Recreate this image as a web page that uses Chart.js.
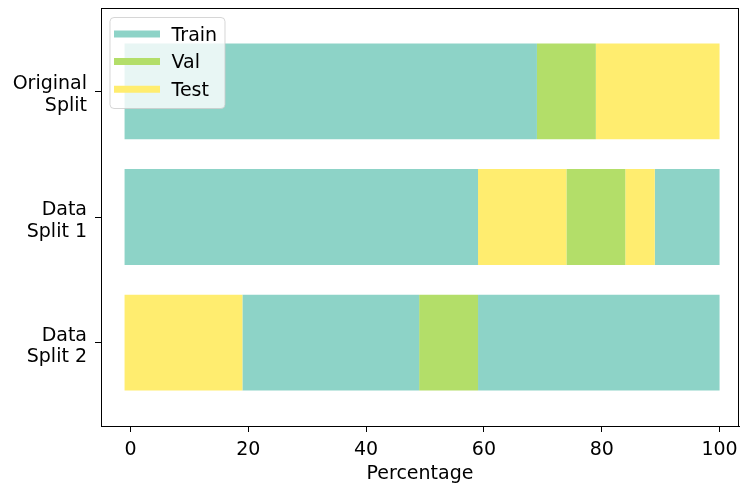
<!DOCTYPE html>
<html>
<head>
<meta charset="utf-8">
<script src="https://cdn.jsdelivr.net/npm/chart.js@4.4.0/dist/chart.umd.min.js"></script>
<style>
    html, body { margin: 0; padding: 0; background: #fff; }
</style>
</head>
<body>
<canvas id="splitChart" width="740" height="485"></canvas>
<script>
// Data
const splitLabels = [['Original', 'Split'], ['Data', 'Split 1'], ['Data', 'Split 2']];
const originalBounds = [-1, 69, 79, 100];
const split1Bounds = [-1, 59, 74, 84, 89, 100];
const split2Bounds = [-1, 19, 49, 59, 100];
const originalParts = ['Train', 'Val', 'Test'];
const split1Parts = ['Train', 'Test', 'Val', 'Test', 'Train'];
const split2Parts = ['Test', 'Train', 'Val', 'Train'];
const legendNames = ['Train', 'Val', 'Test'];
const partColors = ['#8dd3c7', '#b3de69', '#ffed6f'];
const xTicks = [0, 20, 40, 60, 80, 100];
const yTicks = [0, 1, 2];

const FONT = 'DejaVu Sans';
const FONT_SIZE = 19;
Chart.defaults.font.family = FONT;
Chart.defaults.font.size = FONT_SIZE;
Chart.defaults.color = '#000';

function colorOf(name) {
    return partColors[legendNames.indexOf(name)];
}

// one floating bar per segment
function buildDatasets() {
    const rows = [
        [originalBounds, originalParts],
        [split1Bounds, split1Parts],
        [split2Bounds, split2Parts]
    ];
    const sets = [];
    rows.forEach(([bounds, parts], row) => {
        parts.forEach((name, i) => {
            sets.push({
                label: name,
                data: [{ y: row, x: [bounds[i], bounds[i + 1]] }],
                backgroundColor: colorOf(name),
                borderWidth: 0,
                grouped: false,
                barPercentage: 0.763,
                categoryPercentage: 1
            });
        });
    });
    return sets;
}

// matplotlib-like frame around plot area
const framePlugin = {
    id: 'frame',
    afterDraw(chart) {
        const { ctx, chartArea: a } = chart;
        ctx.save();
        ctx.strokeStyle = '#000';
        ctx.lineWidth = 1;
        ctx.strokeRect(Math.round(a.left) + 0.5, Math.round(a.top) + 0.5,
            Math.round(a.right - a.left) - 1, Math.round(a.bottom - a.top));
        ctx.restore();
    }
};

// legend box in upper-left corner of the axes
const legendBoxPlugin = {
    id: 'legendBox',
    afterDraw(chart) {
        const { ctx, chartArea: a } = chart;
        const x = a.left + 9, y = a.top + 9.5, w = 115, h = 91;
        ctx.save();
        ctx.beginPath();
        ctx.roundRect(x, y, w, h, 4);
        ctx.fillStyle = 'rgba(255,255,255,0.8)';
        ctx.fill();
        ctx.strokeStyle = 'rgba(204,204,204,0.8)';
        ctx.lineWidth = 1;
        ctx.stroke();
        ctx.font = FONT_SIZE + 'px "' + FONT + '"';
        ctx.textBaseline = 'alphabetic';
        legendNames.forEach((name, i) => {
            const cy = y + 16.5 + i * 27.6;
            ctx.strokeStyle = partColors[i];
            ctx.lineWidth = 7;
            ctx.beginPath();
            ctx.moveTo(x + 4, cy);
            ctx.lineTo(x + 50, cy);
            ctx.stroke();
            ctx.fillStyle = '#000';
            ctx.fillText(name, x + 61.5, cy + 6.8);
        });
        ctx.restore();
    }
};

document.addEventListener('DOMContentLoaded', () => {
    const ctx = document.getElementById('splitChart');
    new Chart(ctx, {
        type: 'bar',
        data: { datasets: buildDatasets() },
        options: {
            indexAxis: 'y',
            responsive: false,
            animation: false,
            layout: { padding: { top: 8, right: 1, left: 0, bottom: 0 } },
            plugins: {
                legend: { display: false },
                tooltip: { enabled: false }
            },
            scales: {
                x: {
                    type: 'linear',
                    min: -5,
                    max: 103.3,
                    afterBuildTicks: (scale) => {
                        scale.ticks = xTicks.map(v => ({ value: v }));
                    },
                    afterFit: (scale) => {
                        scale.height = 59;
                        scale.paddingLeft = 0;
                        scale.paddingRight = 0;
                    },
                    ticks: { padding: 7, maxRotation: 0 },
                    grid: {
                        drawOnChartArea: false,
                        drawTicks: true,
                        tickLength: 6,
                        color: '#000'
                    },
                    border: { display: true, color: '#000', width: 1 },
                    title: {
                        display: true,
                        text: 'Percentage',
                        padding: { top: 0, bottom: 0 }
                    }
                },
                y: {
                    type: 'linear',
                    reverse: true,
                    offset: false,
                    min: -0.663,
                    max: 2.663,
                    afterBuildTicks: (scale) => {
                        scale.ticks = yTicks.map(v => ({ value: v }));
                    },
                    afterFit: (scale) => {
                        scale.width = 101;
                        scale.paddingTop = 0;
                        scale.paddingBottom = 0;
                    },
                    ticks: {
                        padding: 8,
                        labelOffset: 4,
                        font: { size: FONT_SIZE, lineHeight: 1.14 },
                        callback: (v) => splitLabels[v]
                    },
                    grid: {
                        offset: false,
                        drawOnChartArea: false,
                        drawTicks: true,
                        tickLength: 6,
                        color: '#000'
                    },
                    border: { display: true, color: '#000', width: 1 }
                }
            }
        },
        plugins: [framePlugin, legendBoxPlugin]
    });
});
</script>
</body>
</html>
